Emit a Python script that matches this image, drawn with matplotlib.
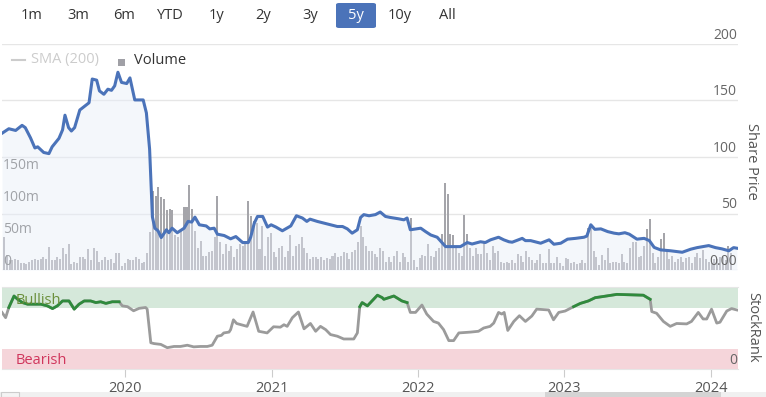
import matplotlib
matplotlib.use("Agg")
import matplotlib.pyplot as plt
import matplotlib.transforms as mtransforms
from matplotlib.lines import Line2D
from matplotlib.patches import FancyBboxPatch, Rectangle
import matplotlib.dates as mdates
import numpy as np
import pandas as pd

plt.rcParams['font.family'] = ['Open Sans', 'DejaVu Sans']

# --- data ---
buttons = ["1m", "3m", "6m", "YTD", "1y", "2y", "3y", "5y", "10y", "All"]
active_button = "5y"

price_dates = [
    "2019-03-01", "2019-03-18", "2019-04-04", "2019-04-20", "2019-04-28", "2019-05-11", "2019-05-22", "2019-05-29", "2019-06-13", "2019-06-26",
    "2019-07-04", "2019-07-21", "2019-07-30", "2019-08-05", "2019-08-14", "2019-08-21", "2019-08-29", "2019-09-11", "2019-10-04", "2019-10-12",
    "2019-10-23", "2019-10-30", "2019-11-10", "2019-11-20", "2019-11-29", "2019-12-07", "2019-12-15", "2019-12-24", "2020-01-06", "2020-01-14",
    "2020-01-26", "2020-02-16", "2020-02-24", "2020-03-03", "2020-03-10", "2020-03-16", "2020-03-24", "2020-04-01", "2020-04-14", "2020-04-20",
    "2020-04-28", "2020-05-11", "2020-05-28", "2020-06-07", "2020-06-16", "2020-06-24", "2020-07-05", "2020-07-22", "2020-07-31", "2020-08-11",
    "2020-08-19", "2020-09-05", "2020-09-21", "2020-10-04", "2020-10-21", "2020-11-04", "2020-11-10", "2020-11-19", "2020-11-27", "2020-12-10",
    "2020-12-22", "2020-12-31", "2021-01-12", "2021-01-28", "2021-02-18", "2021-03-04", "2021-03-19", "2021-03-30", "2021-04-07", "2021-04-25",
    "2021-05-28", "2021-06-14", "2021-06-27", "2021-07-09", "2021-07-21", "2021-08-03", "2021-08-11", "2021-08-19", "2021-09-01", "2021-09-17",
    "2021-09-29", "2021-10-12", "2021-10-24", "2021-11-14", "2021-11-27", "2021-12-05", "2021-12-13", "2022-01-08", "2022-01-20", "2022-02-02",
    "2022-02-18", "2022-02-28", "2022-03-11", "2022-04-17", "2022-05-04", "2022-05-16", "2022-06-06", "2022-06-18", "2022-07-01", "2022-07-21",
    "2022-08-03", "2022-08-16", "2022-08-24", "2022-09-18", "2022-09-26", "2022-10-09", "2022-11-03", "2022-11-24", "2022-12-06", "2022-12-23",
    "2023-01-09", "2023-01-29", "2023-02-19", "2023-02-26", "2023-03-08", "2023-03-18", "2023-04-02", "2023-04-19", "2023-05-05", "2023-05-17",
    "2023-06-01", "2023-06-12", "2023-07-01", "2023-07-19", "2023-08-01", "2023-08-13", "2023-08-29", "2023-09-23", "2023-10-22", "2023-11-12",
    "2023-11-28", "2023-12-27", "2024-01-13", "2024-01-29", "2024-02-15", "2024-02-27", "2024-03-06",
]
share_price = [
    121, 125, 123.5, 128, 126, 117, 108, 109, 104, 103,
    109, 116.5, 124, 137, 126, 123, 126, 141.6, 148, 169,
    168, 158.5, 155.5, 160, 159, 163, 175, 166, 165, 170,
    150.5, 150.5, 139, 107, 47, 37, 34.7, 28.7, 35.6, 33,
    37, 33, 37, 43, 42.4, 46.8, 40, 39, 36.4, 37,
    31.7, 30.5, 27.6, 29.6, 24.3, 24.3, 29, 41.5, 47.4, 47.4,
    38, 40, 38, 34.7, 39, 48, 46, 43, 45, 43,
    40, 38.5, 38.5, 36.4, 32.6, 35.6, 46.5, 49, 48, 49,
    51.3, 47.4, 46.5, 45.3, 44.4, 46, 35.6, 37, 34, 31,
    29, 25, 20.7, 20.7, 24.3, 23, 25, 24.3, 26.7, 29,
    26.7, 25, 24.6, 28, 26, 26, 23.7, 26.7, 22.8, 23.7,
    27.3, 28, 29, 30, 40, 36, 36.4, 34, 32.6, 32,
    33, 31.7, 27.3, 28, 26, 20, 17.8, 17, 15.7, 18.4,
    19.8, 21.6, 19.8, 18.7, 17, 19.8, 19.3,
]

# weekly volume in millions
volume_start = "2019-03-06"
volume_m = [
    51, 23, 15, 15, 17, 15, 11, 11, 9, 13, 15, 17, 16, 17, 20, 17, 36, 16, 16, 20,
    17, 34, 25, 41, 9, 13, 11, 20, 20, 17, 33, 15, 35, 30, 12, 16, 20, 15, 17, 11,
    27, 27, 7, 11, 17, 16, 15, 20, 17, 11, 12, 27,
    60, 124, 116, 129, 114, 111, 93, 95, 93, 54, 51, 64, 98, 98, 133, 95, 61, 35, 46, 22,
    22, 28, 30, 51, 115, 43, 25, 41, 30, 38, 20, 33, 41, 38, 46,
    107,
    85, 77, 74, 33, 69, 22, 51, 58, 28, 21, 35, 37, 21, 29, 54, 22, 38, 41, 51, 35,
    27, 17, 20, 21, 17, 20, 15, 18, 17, 22, 27, 20, 22, 28, 27, 17, 28,
    32, 43, 69, 51, 38, 30, 30, 25, 20, 34, 29, 13, 20, 13, 22, 30, 13, 27,
    20, 13, 81, 15, 4, 18, 23, 22, 41, 22, 20, 30, 35, 56, 136, 119, 56, 54,
    34, 27, 22, 86, 56, 35, 22, 35, 25, 25, 43, 27, 16, 37, 27,
    29, 13, 11, 13, 11, 15, 11, 25, 22, 13, 30, 20, 15, 11, 16, 25, 11, 11,
    33, 11, 11, 20, 11, 6, 18, 17, 11, 13, 9, 11, 15, 11, 66, 68, 29, 20,
    8, 23, 15, 34, 11, 12, 13, 11, 25, 13, 11, 35, 43, 43, 20, 22,
    37, 64, 80, 27, 11, 20, 48, 58, 29, 17, 22, 13, 17, 20, 13, 18, 21, 11, 21,
    27, 18, 32, 17, 13, 11, 17, 17, 20, 20, 15, 38, 27,
]

rank_dates = [
    "2019-03-01", "2019-03-10", "2019-03-18", "2019-03-31", "2019-04-09", "2019-04-21", "2019-05-04", "2019-05-20", "2019-06-06", "2019-06-22",
    "2019-07-05", "2019-07-17", "2019-07-30", "2019-08-15", "2019-08-28", "2019-09-09", "2019-09-22", "2019-10-08", "2019-10-21", "2019-11-02",
    "2019-11-15", "2019-12-01", "2019-12-18", "2019-12-26", "2020-01-08", "2020-01-23", "2020-02-06", "2020-02-22", "2020-02-26", "2020-03-06",
    "2020-03-14", "2020-03-31", "2020-04-16", "2020-05-03", "2020-05-19", "2020-06-05", "2020-06-21", "2020-07-08", "2020-07-25", "2020-08-06",
    "2020-08-19", "2020-08-29", "2020-09-04", "2020-09-17", "2020-09-21", "2020-09-28", "2020-10-06", "2020-11-01", "2020-11-16", "2020-11-30",
    "2020-12-21", "2021-01-06", "2021-01-23", "2021-02-01", "2021-02-09", "2021-02-22", "2021-03-09", "2021-03-23", "2021-04-08", "2021-04-21",
    "2021-05-03", "2021-05-16", "2021-05-28", "2021-06-14", "2021-06-30", "2021-07-25", "2021-08-03", "2021-08-09", "2021-08-15", "2021-08-28",
    "2021-09-22", "2021-10-04", "2021-10-08", "2021-11-02", "2021-11-22", "2021-12-05", "2021-12-13", "2021-12-26", "2022-01-11", "2022-01-23",
    "2022-02-09", "2022-02-21", "2022-03-06", "2022-03-19", "2022-03-31", "2022-04-13", "2022-05-12", "2022-06-01", "2022-06-14", "2022-06-30",
    "2022-07-09", "2022-07-21", "2022-07-29", "2022-08-04", "2022-08-13", "2022-08-28", "2022-09-11", "2022-09-26", "2022-10-12", "2022-10-24",
    "2022-11-23", "2022-12-05", "2022-12-18", "2023-01-03", "2023-01-24", "2023-02-10", "2023-03-02", "2023-03-19", "2023-04-09", "2023-05-12",
    "2023-06-14", "2023-07-17", "2023-08-03", "2023-08-07", "2023-08-19", "2023-09-05", "2023-09-22", "2023-10-08", "2023-11-02", "2023-11-14",
    "2023-12-01", "2023-12-13", "2023-12-22", "2024-01-03", "2024-01-16", "2024-01-24", "2024-02-10", "2024-02-22", "2024-03-06",
]
stock_rank = [
    69, 62.6, 75, 89, 85, 81, 79, 79, 79, 77,
    73.7, 77, 83, 83, 73, 79, 83, 83, 81, 82,
    80, 82, 82, 77, 76, 71, 74, 75, 73, 32,
    31, 30, 26, 27.5, 27.5, 29, 27, 27.5, 27.5, 29,
    40, 41, 44, 45, 48, 60, 55.5, 52, 69.5, 46,
    44, 51.5, 51, 54, 52, 62.6, 69.5, 49, 55.5, 46,
    52, 48, 42, 40, 36.6, 36.6, 44, 76, 81, 77,
    90, 87, 85, 89, 83, 81, 69, 69, 78, 67,
    58, 56, 48, 34.6, 34.6, 44, 45, 46, 50, 52,
    56, 69, 67, 69, 47, 58, 65, 58, 64.6, 73,
    72, 60, 69, 70.7, 76, 80, 83, 87, 88.5, 91,
    90.5, 90, 85, 70, 68, 58, 52, 55.5, 55, 58,
    69, 61, 61, 73, 56, 57, 70.7, 73.7, 72,
]
bullish_periods = [("2019-03-16", "2019-12-24"), ("2021-08-05", "2021-12-09"),
                   ("2023-01-17", "2023-08-05")]

year_ticks = ["2020", "2021", "2022", "2023", "2024"]
price_ticks = [0, 50, 100, 150, 200]
price_labels = ["0.00", "50", "100", "150", "200"]
volume_ticks = [0, 50, 100, 150]
volume_labels = ["0", "50m", "100m", "150m"]

# --- styling ---
BLUE = "#4b73b9"
GRID = "#e6e6e6"
LABEL = "#666666"

W, H = 766, 397
fig = plt.figure(figsize=(W / 100, H / 100), dpi=100)


def rect(x0, y0, x1, y1):
    # pixel box (top-left origin) -> figure fraction
    return [x0 / W, 1 - y1 / H, (x1 - x0) / W, (y1 - y0) / H]


px_dates = pd.to_datetime(price_dates)
rk_dates = pd.to_datetime(rank_dates)
vol_dates = pd.date_range(volume_start, periods=len(volume_m), freq="7D")
xmin, xmax = pd.Timestamp("2019-03-01"), pd.Timestamp("2024-03-09")

# main panel: volume behind, price in front
ax_vol = fig.add_axes(rect(2, 44, 738, 270))
ax_px = ax_vol.twinx()
ax_vol.set_ylim(0, 353)
ax_px.set_ylim(0, 200)
ax_vol.set_xlim(xmin, xmax)

grid_tr = mtransforms.blended_transform_factory(ax_vol.transAxes, ax_px.transData)
for g in price_ticks:
    ax_vol.add_line(Line2D([0, 1], [g, g], transform=grid_tr, color=GRID, lw=1, zorder=0))

ax_vol.bar(vol_dates, volume_m, width=5, color="#a5a5aa", linewidth=0, zorder=1)
ax_px.fill_between(px_dates, share_price, 0, color="#e8eef8", alpha=0.45, lw=0)
ax_px.plot(px_dates, share_price, color=BLUE, lw=2.2, solid_joinstyle="round")

for a in (ax_vol, ax_px):
    for s in a.spines.values():
        s.set_visible(False)
    a.set_xticks([])
    a.set_yticks([])

lab_tr = mtransforms.blended_transform_factory(ax_px.transAxes, ax_px.transData)
for v, t in zip(price_ticks, price_labels):
    ax_px.annotate(t, xy=(1, v), xycoords=lab_tr, xytext=(-1, 1), textcoords="offset pixels",
                   ha="right", va="bottom", fontsize=10, color=LABEL)
vlab_tr = mtransforms.blended_transform_factory(ax_vol.transAxes, ax_vol.transData)
for v, t in zip(volume_ticks, volume_labels):
    ax_vol.annotate(t, xy=(0, v), xycoords=vlab_tr, xytext=(1, 1), textcoords="offset pixels",
                    ha="left", va="bottom", fontsize=10, color=LABEL, zorder=5)

# stockrank panel
ax_rk = fig.add_axes(rect(2, 287, 738, 369))
ax_rk.set_xlim(xmin, xmax)
ax_rk.set_ylim(0, 100)
ax_rk.axhspan(75, 100, color="#d5e8da", lw=0, zorder=0)
ax_rk.axhspan(0, 25, color="#f5d5da", lw=0, zorder=0)
ax_rk.text(0.018, 84, "Bullish", transform=mtransforms.blended_transform_factory(ax_rk.transAxes, ax_rk.transData),
           color="#6a8f3a", fontsize=10.5, va="center", ha="left")
ax_rk.text(0.018, 10, "Bearish", transform=mtransforms.blended_transform_factory(ax_rk.transAxes, ax_rk.transData),
           color="#d0365c", fontsize=10.5, va="center", ha="left")

rank = np.array(stock_rank, dtype=float)
bull = np.zeros(len(rank), dtype=bool)
for a, b in bullish_periods:
    bull |= (rk_dates >= pd.Timestamp(a)) & (rk_dates <= pd.Timestamp(b))
ax_rk.plot(rk_dates, rank, color="#9b9b9b", lw=2)
ax_rk.plot(rk_dates, np.ma.masked_where(~bull, rank), color="#2f8a3c", lw=2)

rk_tr = mtransforms.blended_transform_factory(ax_rk.transAxes, ax_rk.transData)
ax_rk.annotate("0", xy=(1, 0), xycoords=rk_tr, xytext=(-1, 1), textcoords="offset pixels",
               ha="right", va="bottom", fontsize=10, color=LABEL)

for name, s in ax_rk.spines.items():
    s.set_visible(name in ("top", "bottom"))
    s.set_color(GRID)
ax_rk.set_yticks([])
ax_rk.set_xticks(pd.to_datetime([y + "-01-01" for y in year_ticks]))
ax_rk.xaxis.set_major_formatter(mdates.DateFormatter("%Y"))
ax_rk.tick_params(axis="x", length=6, color="#cccccc", labelcolor="#555555", labelsize=10.5, pad=3)

# range selector buttons
btn_x = [32, 78, 124, 170, 217, 263, 310, 356, 400, 447]
for bx, b in zip(btn_x, buttons):
    if b == active_button:
        fig.patches.append(FancyBboxPatch((bx / W - 20 / W, 1 - 28 / H), 40 / W, 25 / H,
                                          boxstyle="round,pad=0,rounding_size=0.004",
                                          transform=fig.transFigure, fc=BLUE, ec="none"))
        col = "white"
    else:
        col = "#333333"
    fig.text(bx / W, 1 - 15.5 / H, b, ha="center", va="center", fontsize=10.5, color=col)

# legend
fig.lines.append(Line2D([12 / W, 25 / W], [1 - 60 / H] * 2, transform=fig.transFigure, color="#cccccc", lw=1.5))
fig.text(31 / W, 1 - 60 / H, "SMA (200)", ha="left", va="center", fontsize=10.5, color="#cccccc")
fig.patches.append(Rectangle((118 / W, 1 - 66 / H), 7 / W, 7 / H, transform=fig.transFigure, fc="#a0a0a6", ec="none"))
fig.text(134 / W, 1 - 60 / H, "Volume", ha="left", va="center", fontsize=10.5, color="#333333")

# axis titles
fig.text(752 / W, 1 - 161 / H, "Share Price", rotation=-90, ha="center", va="center", fontsize=10.5, color="#555555")
fig.text(753 / W, 1 - 327 / H, "StockRank", rotation=-90, ha="center", va="center", fontsize=10.5, color="#555555")

# navigator strip at the bottom
fig.patches.append(Rectangle((0, 0), 1, 5 / H, transform=fig.transFigure, fc="#f0f0f0", ec="none"))
fig.patches.append(Rectangle((545 / W, 0), 176 / W, 5 / H, transform=fig.transFigure, fc="#d4d4d4", ec="none"))
fig.patches.append(Rectangle((0.5 / W, 0), 18 / W, 5 / H, transform=fig.transFigure, fc="#f4f4f4", ec="#cccccc", lw=0.8))

fig.savefig("out.png", dpi=100)
